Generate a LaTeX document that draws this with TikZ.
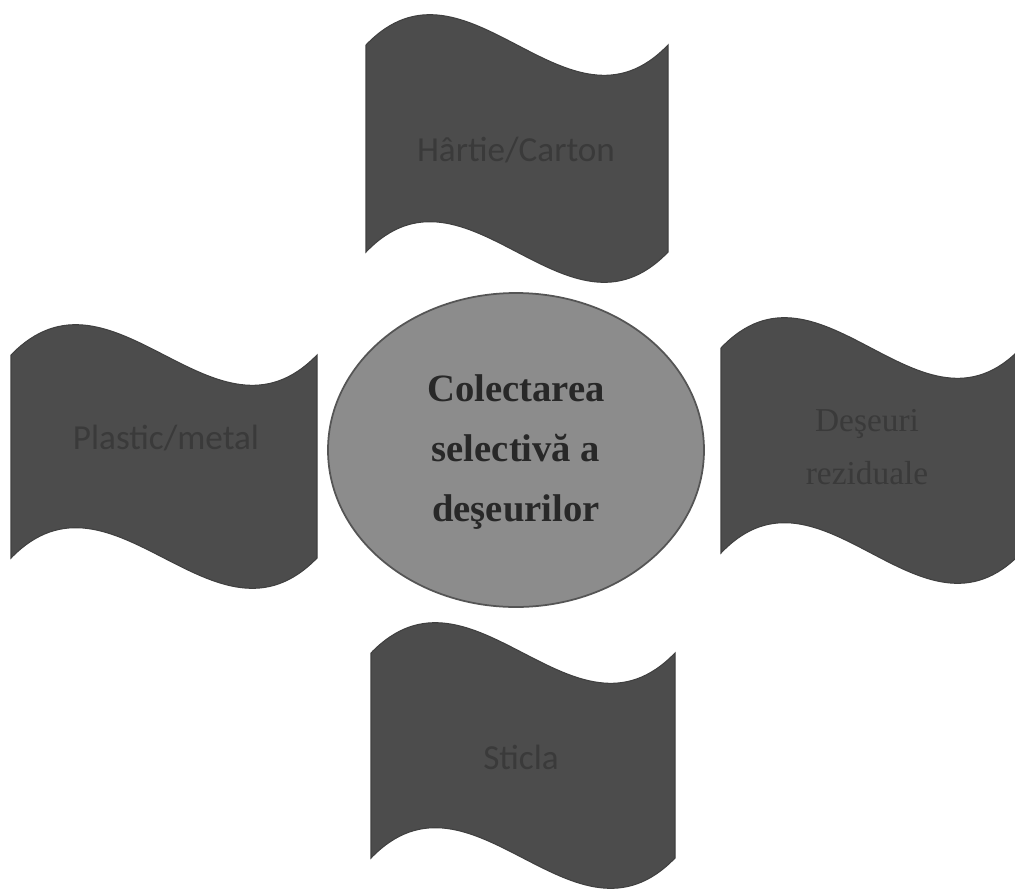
\documentclass[tikz,border=0pt]{standalone}
\usepackage{fontspec}
\setmainfont{Liberation Serif}
\newfontfamily\carl{Carlito}
\definecolor{flagfill}{RGB}{76,76,76}
\definecolor{flagtext}{RGB}{58,58,58}
\definecolor{ovalfill}{RGB}{140,140,140}
\definecolor{ovaldraw}{RGB}{85,85,85}
\definecolor{ovaltext}{RGB}{40,40,40}
\newcommand\wflag[5]{%
  \fill[flagfill, draw=black!75, line width=0.6pt]
   (#1,#2) .. controls ({#1+#3/3},{#2-#5}) and ({#1+2*#3/3},{#2+#5}) .. ({#1+#3},#2)
   -- ({#1+#3},{#2+#4})
   .. controls ({#1+2*#3/3},{#2+#4+#5}) and ({#1+#3/3},{#2+#4-#5}) .. (#1,{#2+#4})
   -- cycle;}
\tikzset{
  flaglabel/.style={text=flagtext, font=\carl\fontsize{20}{24}\selectfont, align=center},
  flaglabelserif/.style={text=flagtext, font=\fontsize{19}{30}\selectfont, align=center},
  centerlabel/.style={text=ovaltext, font=\bfseries\fontsize{22}{34}\selectfont, align=center}
}
\begin{document}
\begin{tikzpicture}[x=0.02cm,y=-0.02cm]
\useasboundingbox (0,0) rectangle (1015,890);
\fill[white] (0,0) rectangle (1015,890);
\wflag{366}{45}{302}{207}{105}
\wflag{11}{355}{306}{203}{105}
\wflag{721}{348}{300}{205}{105}
\wflag{371}{653}{304}{205}{105}
\draw[fill=ovalfill, draw=ovaldraw, line width=1pt] (516,450) ellipse [x radius=188, y radius=157];
\node[centerlabel] (center) at (516,452) {Colectarea\\selectivă a\\deşeurilor};
\node[flaglabel] (hartie) at (516,150) {Hârtie/Carton};
\node[flaglabel] (plastic) at (166,438) {Plastic/metal};
\node[flaglabelserif] (deseuri) at (867,447) {Deşeuri\\reziduale};
\node[flaglabel] (sticla) at (521,757) {Sticla};
\end{tikzpicture}
\end{document}
